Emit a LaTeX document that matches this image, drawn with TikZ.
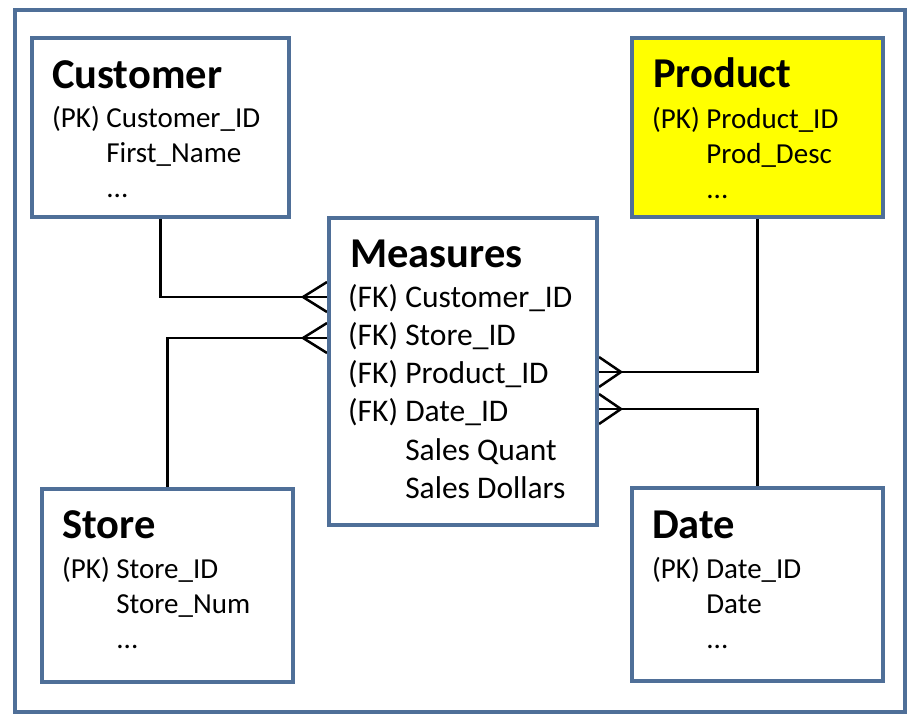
\documentclass[tikz,border=0pt]{standalone}
\usepackage{fontspec}
\setmainfont{Carlito}
\usetikzlibrary{positioning,backgrounds}

\definecolor{boxblue}{RGB}{79,111,152}
\definecolor{prodyellow}{RGB}{255,255,0}

\tikzset{
  entity/.style={draw=boxblue, line width=4pt, fill=white, inner sep=0pt},
  etitle/.style={anchor=base west, inner sep=0pt, font=\fontsize{42.5}{42.5}\selectfont\bfseries},
  efields/.style={anchor=base west, inner sep=0pt, font=\fontsize{29}{35}\selectfont},
  rel/.style={line width=2.5pt, black},
}

% crow's foot at a box edge: #1 point, #2 horizontal length (sign = side)
\newcommand{\crowfoot}[2]{%
  \draw[rel] (#1) ++(#2,0) -- ++({-(#2)},-15) ++(#2,15) -- ++({-(#2)},15);}

\begin{document}
\begin{tikzpicture}[x=1pt, y=-1pt]
    % Frame
    \useasboundingbox (0,0) rectangle (918,720);
    \draw[boxblue, line width=4pt] (15,10) rectangle (905,712);

    % Dimension tables
    \node[entity, minimum width=257, minimum height=179] (cust) at (160.5,127.5) {};
    \node[etitle] (custT) at (52,88) {Customer};
    \node[efields] (custF) at (52,127) {\begin{tabular}[t]{@{}l@{\ }l@{}}(PK) & Customer\_ID\\ & First\_Name\\ & ...\end{tabular}};

    \node[entity, fill=prodyellow, minimum width=251, minimum height=179] (prod) at (757.5,127.5) {};
    \node[etitle] (prodT) at (653,87) {Product};
    \node[efields] (prodF) at (652,128) {\begin{tabular}[t]{@{}l@{\ }l@{}}(PK) & Product\_ID\\ & Prod\_Desc\\ & ...\end{tabular}};

    \node[entity, minimum width=251, minimum height=193] (store) at (167.5,585.5) {};
    \node[etitle] (storeT) at (62,538) {Store};
    \node[efields] (storeF) at (62,578) {\begin{tabular}[t]{@{}l@{\ }l@{}}(PK) & Store\_ID\\ & Store\_Num\\ & ...\end{tabular}};

    \node[entity, minimum width=251, minimum height=193] (date) at (757.5,584.5) {};
    \node[etitle] (dateT) at (652,538) {Date};
    \node[efields] (dateF) at (652,578) {\begin{tabular}[t]{@{}l@{\ }l@{}}(PK) & Date\_ID\\ & Date\\ & ...\end{tabular}};

    % Fact table
    \node[entity, minimum width=268, minimum height=307] (meas) at (463,371.5) {};
    \node[etitle] (measT) at (350,267) {Measures};
    \node[efields, font=\fontsize{31.5}{38.3}\selectfont] (measF) at (348,307) {\begin{tabular}[t]{@{}l@{\ }l@{}}(FK) & Customer\_ID\\ (FK) & Store\_ID\\ (FK) & Product\_ID\\ (FK) & Date\_ID\\ & Sales Quant\\ & Sales Dollars\end{tabular}};

    % Relationships (one to many)
    \coordinate (mc) at (meas.west |- 0,297);
    \coordinate (ms) at (meas.west |- 0,338);
    \coordinate (mp) at (meas.east |- 0,372);
    \coordinate (md) at (meas.east |- 0,409);
    \begin{scope}[on background layer]
      \draw[rel] (cust.south) |- (mc);
      \draw[rel] (store.north) |- (ms);
      \draw[rel] (prod.south) |- (mp);
      \draw[rel] (date.north) |- (md);
      \crowfoot{mc}{-24}
      \crowfoot{ms}{-24}
      \crowfoot{mp}{22}
      \crowfoot{md}{22}
    \end{scope}
\end{tikzpicture}
\end{document}
